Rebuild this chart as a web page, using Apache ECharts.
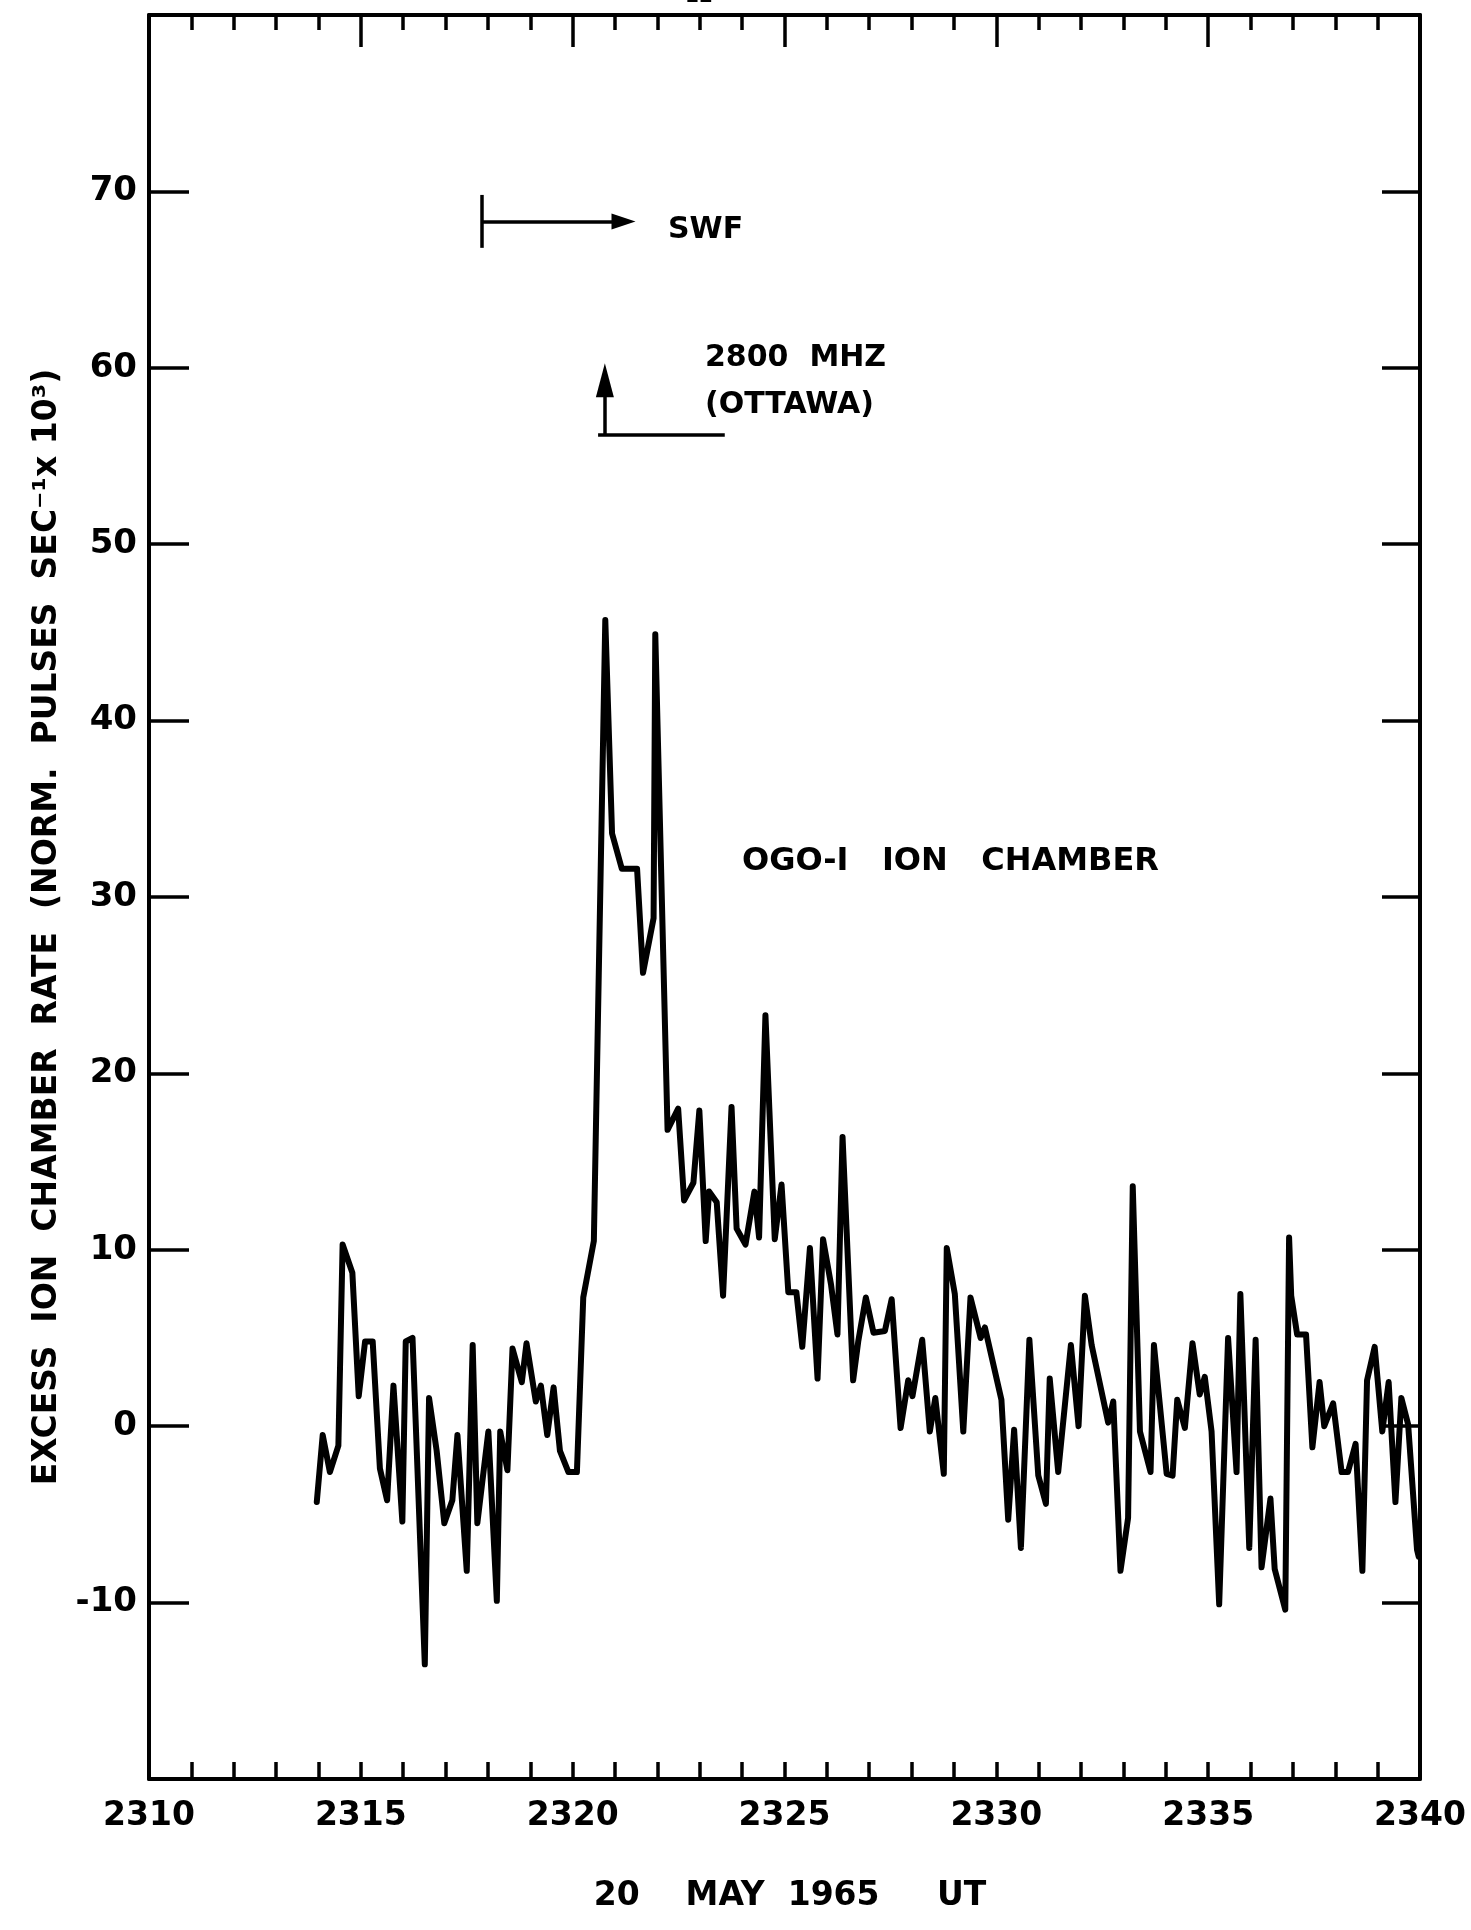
<!DOCTYPE html>
<html>
<head>
<meta charset="utf-8">
<title>OGO-I Ion Chamber, 20 May 1965</title>
<script src="https://cdn.jsdelivr.net/npm/echarts@6/dist/echarts.min.js"></script>
<style>
  html, body { margin: 0; padding: 0; background: #fff; }
  #chart { width: 1471px; height: 1930px; }
</style>
</head>
<body>
<div id="chart"></div>
<script>
// Time of each reading, minutes past 2300 UT written as 23xx.xx
const minutes = [
  2313.96, 2314.10, 2314.27, 2314.47, 2314.57, 2314.80, 2314.95, 2315.10, 2315.28, 2315.45,
  2315.62, 2315.77, 2315.98, 2316.06, 2316.22, 2316.51, 2316.61, 2316.79, 2316.97, 2317.16,
  2317.28, 2317.50, 2317.64, 2317.75, 2318.01, 2318.21, 2318.29, 2318.46, 2318.58, 2318.80,
  2318.91, 2319.13, 2319.25, 2319.40, 2319.55, 2319.70, 2319.90, 2320.10, 2320.25, 2320.50,
  2320.77, 2320.93, 2321.16, 2321.52, 2321.66, 2321.91, 2321.95, 2322.24, 2322.49, 2322.63,
  2322.85, 2322.99, 2323.14, 2323.22, 2323.40, 2323.55, 2323.75, 2323.87, 2324.08, 2324.29,
  2324.40, 2324.55, 2324.77, 2324.93, 2325.09, 2325.28, 2325.42, 2325.60, 2325.78, 2325.91,
  2326.10, 2326.25, 2326.37, 2326.62, 2326.74, 2326.92, 2327.10, 2327.37, 2327.53, 2327.74,
  2327.92, 2328.02, 2328.25, 2328.43, 2328.56, 2328.76, 2328.83, 2329.02, 2329.22, 2329.39,
  2329.63, 2329.73, 2330.12, 2330.28, 2330.42, 2330.58, 2330.78, 2330.99, 2331.17, 2331.26,
  2331.46, 2331.76, 2331.94, 2332.09, 2332.25, 2332.64, 2332.76, 2332.93, 2333.11, 2333.22,
  2333.39, 2333.64, 2333.72, 2334.02, 2334.16, 2334.27, 2334.45, 2334.63, 2334.80, 2334.92,
  2335.08, 2335.26, 2335.47, 2335.67, 2335.76, 2335.97, 2336.12, 2336.26, 2336.47, 2336.57,
  2336.82, 2336.91, 2336.96, 2337.10, 2337.31, 2337.46, 2337.63, 2337.74, 2337.95, 2338.15,
  2338.30, 2338.48, 2338.64, 2338.75, 2338.93, 2339.11, 2339.26, 2339.42, 2339.56, 2339.72,
  2339.93, 2339.97
];

// Excess ion chamber rate, normalised pulses per second, x 10^3
const rate = [
  -4.3, -0.5, -2.6, -1.1, 10.3, 8.7, 1.7, 4.8, 4.8, -2.4,
  -4.2, 2.3, -5.4, 4.8, 5.0, -13.5, 1.6, -1.4, -5.5, -4.2,
  -0.5, -8.2, 4.6, -5.5, -0.3, -9.9, -0.3, -2.5, 4.4, 2.5,
  4.7, 1.4, 2.3, -0.5, 2.2, -1.4, -2.6, -2.6, 7.3, 10.5,
  45.7, 33.6, 31.6, 31.6, 25.7, 28.8, 44.9, 16.8, 18.0, 12.8,
  13.8, 17.9, 10.5, 13.3, 12.7, 7.4, 18.1, 11.2, 10.3, 13.3,
  10.7, 23.3, 10.6, 13.7, 7.6, 7.6, 4.5, 10.1, 2.7, 10.6,
  8.0, 5.2, 16.4, 2.6, 4.8, 7.3, 5.3, 5.4, 7.2, -0.1,
  2.6, 1.7, 4.9, -0.3, 1.6, -2.7, 10.1, 7.5, -0.3, 7.3,
  5.0, 5.6, 1.5, -5.3, -0.2, -6.9, 4.9, -2.8, -4.4, 2.7,
  -2.6, 4.6, 0.0, 7.4, 4.6, 0.2, 1.4, -8.2, -5.2, 13.6,
  -0.3, -2.6, 4.6, -2.7, -2.8, 1.5, -0.1, 4.7, 1.8, 2.8,
  -0.3, -10.1, 5.0, -2.6, 7.5, -6.9, 4.9, -8.0, -4.1, -8.1,
  -10.4, 10.7, 7.4, 5.2, 5.2, -1.2, 2.5, 0.0, 1.3, -2.6,
  -2.6, -1.0, -8.2, 2.6, 4.5, -0.3, 2.5, -4.3, 1.6, 0.1,
  -7.0, -7.4
];

// Tick labels
const xTickLabels = [2310, 2315, 2320, 2325, 2330, 2335, 2340];
const yTickLabels = [-10, 0, 10, 20, 30, 40, 50, 60, 70];

// Event markers (time in 23xx minutes, level in plot units)
const swfStart = 2317.85;          // sudden wave fade-out onset
const swfArrowEnd = 2321.20;
const swfLevel = 68.3;
const swfBar = [66.8, 69.8];
const radioOnset = 2320.76;        // 2800 MHz burst, Ottawa
const radioBase = 56.2;
const radioArrowEnd = 59.3;
const radioBaseEnd = 2323.59;
const radioBaseStart = 2320.60;

const FONT = '"DejaVu Sans", sans-serif';
const chart = echarts.init(document.getElementById('chart'), null, { renderer: 'canvas' });

const axisLine = { show: true, onZero: false, lineStyle: { color: '#000', width: 4 } };
const tickStyle = { color: '#000', width: 3.5 };

chart.setOption({
  backgroundColor: '#ffffff',
  animation: false,
  grid: { left: 149, top: 15, width: 1271, height: 1764, containLabel: false },
  xAxis: [
    {
      type: 'value', position: 'bottom', min: 2310, max: 2340, interval: 5,
      axisLine: axisLine,
      axisTick: { show: true, inside: true, length: 17, lineStyle: tickStyle },
      minorTick: { show: true, splitNumber: 5, length: 17, lineStyle: tickStyle },
      splitLine: { show: false },
      axisLabel: {
        show: true, margin: 21, color: '#000',
        fontFamily: FONT, fontWeight: 'bold', fontSize: 33,
        formatter: v => xTickLabels.includes(v) ? String(v) : ''
      }
    },
    {
      type: 'value', position: 'top', min: 2310, max: 2340, interval: 5,
      axisLine: axisLine,
      axisTick: { show: true, inside: true, length: 32, lineStyle: tickStyle },
      minorTick: { show: true, splitNumber: 5, length: 15, lineStyle: tickStyle },
      splitLine: { show: false },
      axisLabel: { show: false }
    }
  ],
  yAxis: [
    {
      type: 'value', position: 'left', min: -20, max: 80, interval: 10,
      axisLine: axisLine,
      axisTick: { show: true, inside: true, length: 40, lineStyle: tickStyle },
      splitLine: { show: false },
      axisLabel: {
        show: true, margin: 12, color: '#000',
        fontFamily: FONT, fontWeight: 'bold', fontSize: 34,
        formatter: v => yTickLabels.includes(v) ? String(v) : ''
      }
    },
    {
      type: 'value', position: 'right', min: -20, max: 80, interval: 10,
      axisLine: axisLine,
      axisTick: { show: true, inside: true, length: 38, lineStyle: tickStyle },
      splitLine: { show: false },
      axisLabel: { show: false }
    }
  ],
  series: [
    {
      type: 'line',
      xAxisIndex: 0, yAxisIndex: 0,
      data: minutes.map((m, i) => [m, rate[i]]),
      showSymbol: false,
      symbol: 'none',
      smooth: false,
      clip: true,
      lineStyle: { color: '#000', width: 6, join: 'round', cap: 'round' },
      z: 3,
      markLine: {
        silent: true,
        animation: false,
        symbol: ['none', 'none'],
        label: { show: false },
        emphasis: { disabled: true },
        lineStyle: { color: '#000', width: 3.5, type: 'solid' },
        data: [
          [ { coord: [swfStart, swfBar[0]], symbol: 'none' },
            { coord: [swfStart, swfBar[1]], symbol: 'none' } ],
          [ { coord: [swfStart, swfLevel], symbol: 'none' },
            { coord: [swfArrowEnd, swfLevel], symbol: 'triangle', symbolSize: [16, 24] } ],
          [ { coord: [radioOnset, radioBase], symbol: 'none' },
            { coord: [radioOnset, radioArrowEnd], symbol: 'triangle', symbolSize: [18, 34] } ],
          [ { coord: [radioBaseStart, radioBase], symbol: 'none' },
            { coord: [radioBaseEnd, radioBase], symbol: 'none' } ]
        ]
      }
    }
  ],
  graphic: [
    {
      type: 'text', x: 47, y: 927, rotation: Math.PI / 2, silent: true,
      style: {
        text: 'EXCESS  ION  CHAMBER  RATE  (NORM.  PULSES  SEC⁻¹x 10³)',
        font: 'bold 33px ' + FONT, fill: '#000',
        align: 'center', verticalAlign: 'middle',
        textAlign: 'center', textVerticalAlign: 'middle'
      }
    },
    {
      type: 'text', x: 790, y: 1896, silent: true,
      style: {
        text: '20    MAY  1965     UT',
        font: 'bold 33px ' + FONT, fill: '#000',
        align: 'center', verticalAlign: 'middle',
        textAlign: 'center', textVerticalAlign: 'middle'
      }
    },
    {
      type: 'text', x: 668, y: 230, silent: true,
      style: {
        text: 'SWF', font: 'bold 30px ' + FONT, fill: '#000',
        align: 'left', verticalAlign: 'middle',
        textAlign: 'left', textVerticalAlign: 'middle'
      }
    },
    {
      type: 'text', x: 705, y: 358, silent: true,
      style: {
        text: '2800  MHZ', font: 'bold 30px ' + FONT, fill: '#000',
        align: 'left', verticalAlign: 'middle',
        textAlign: 'left', textVerticalAlign: 'middle'
      }
    },
    {
      type: 'text', x: 705, y: 405, silent: true,
      style: {
        text: '(OTTAWA)', font: 'bold 30px ' + FONT, fill: '#000',
        align: 'left', verticalAlign: 'middle',
        textAlign: 'left', textVerticalAlign: 'middle'
      }
    },
    {
      type: 'text', x: 742, y: 862, silent: true,
      style: {
        text: 'OGO-I   ION   CHAMBER', font: 'bold 32px ' + FONT, fill: '#000',
        align: 'left', verticalAlign: 'middle',
        textAlign: 'left', textVerticalAlign: 'middle'
      }
    },
    {
      type: 'text', x: 699, y: -3, silent: true,
      style: {
        text: '12', font: 'bold 20px ' + FONT, fill: '#000',
        align: 'center', verticalAlign: 'middle',
        textAlign: 'center', textVerticalAlign: 'middle'
      }
    }
  ]
});
</script>
</body>
</html>
